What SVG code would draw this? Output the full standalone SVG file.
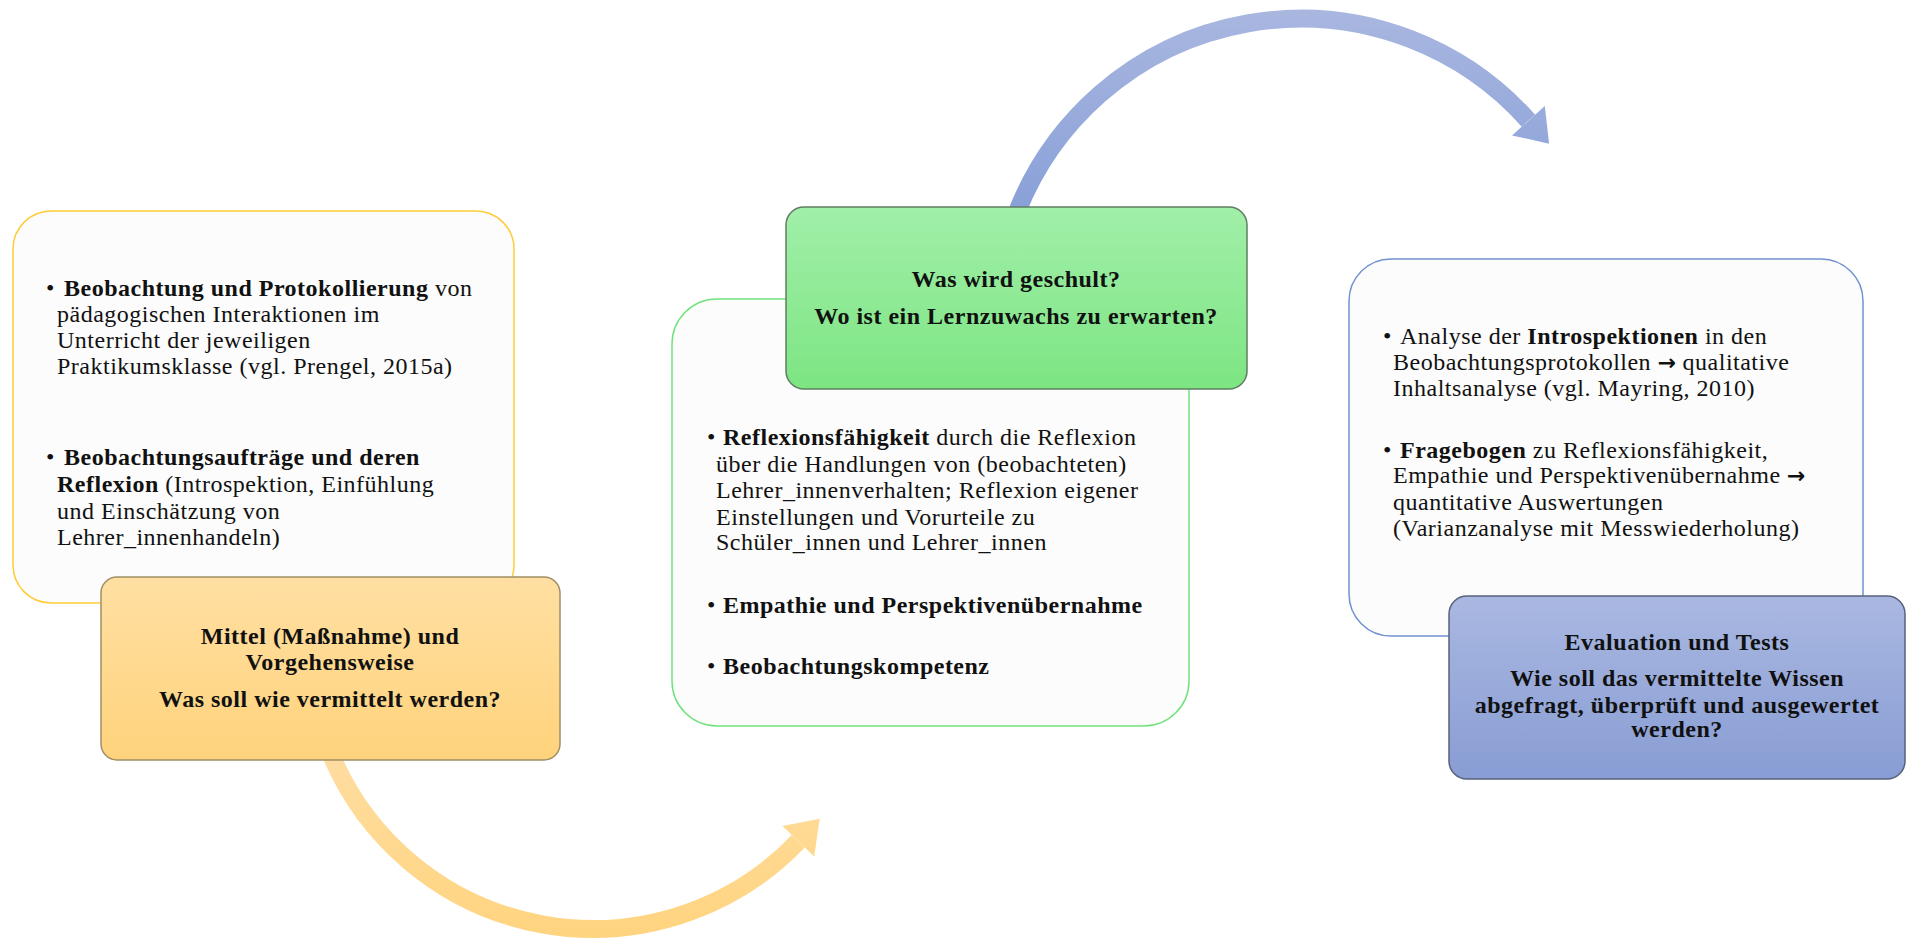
<svg xmlns="http://www.w3.org/2000/svg" width="1906" height="940" viewBox="0 0 1906 940">
<defs>
<linearGradient id="gOrange" x1="0" y1="0" x2="0" y2="1"><stop offset="0" stop-color="#FFDFA2"/><stop offset="1" stop-color="#FFD37C"/></linearGradient>
<linearGradient id="gGreen" x1="0" y1="0" x2="0" y2="1"><stop offset="0" stop-color="#A1EFA9"/><stop offset="1" stop-color="#7DE582"/></linearGradient>
<linearGradient id="gBlue" x1="0" y1="0" x2="0" y2="1"><stop offset="0" stop-color="#AAB8E1"/><stop offset="1" stop-color="#889DD4"/></linearGradient>
<linearGradient id="gArrO" gradientUnits="userSpaceOnUse" x1="0" y1="760" x2="0" y2="940"><stop offset="0" stop-color="#FFDDA0"/><stop offset="1" stop-color="#FFD47F"/></linearGradient>
<linearGradient id="gArrB" gradientUnits="userSpaceOnUse" x1="0" y1="10" x2="0" y2="210"><stop offset="0" stop-color="#A9B7E0"/><stop offset="1" stop-color="#89A0D8"/></linearGradient>
</defs>
<style>
text{font-family:"Liberation Serif","Times New Roman",serif;font-size:24px;fill:#111;letter-spacing:0.5px}
.b{font-weight:bold}
.c{text-anchor:middle}
.ar{font-family:"DejaVu Sans",sans-serif;font-weight:bold;font-size:22px;letter-spacing:0}
.wbox{fill:#FCFCFC;stroke-width:1.5}
</style>
<rect width="1906" height="940" fill="#FFFFFF"/>
<g id="connectors">
<path d="M 331.6 755.9 A 284 284 0 0 0 798.3 841.2" fill="none" stroke="url(#gArrO)" stroke-width="18"/>
<polygon points="819.7,818.8 814.2,856.4 782.4,826.0" fill="url(#gArrO)"/>
<path d="M 1017.3 211.2 A 305 305 0 0 1 1528.4 120.7" fill="none" stroke="url(#gArrB)" stroke-width="18"/>
<polygon points="1549.1,143.8 1544.8,106.0 1512.0,135.4" fill="url(#gArrB)"/>
</g>
<g id="node-left">
<rect class="wbox" x="13" y="211" width="501" height="392" rx="38" stroke="#FFCB3A"/>
<text x="46" y="296">•</text>
<text x="64" y="296"><tspan class="b">Beobachtung und Protokollierung</tspan> von</text>
<text x="57" y="322">pädagogischen Interaktionen im</text>
<text x="57" y="348">Unterricht der jeweiligen</text>
<text x="57" y="374">Praktikumsklasse (vgl. Prengel, 2015a)</text>
<text x="46" y="465">•</text>
<text x="64" y="465" class="b">Beobachtungsaufträge und deren</text>
<text x="57" y="492"><tspan class="b">Reflexion</tspan> (Introspektion, Einfühlung</text>
<text x="57" y="519">und Einschätzung von</text>
<text x="57" y="545">Lehrer_innenhandeln)</text>
</g>
<g id="node-mittel">
<rect x="101" y="577" width="459" height="183" rx="16" fill="url(#gOrange)" stroke="#A08E66" stroke-width="1.5"/>
<text x="330" y="644" class="b c">Mittel (Maßnahme) und</text>
<text x="330" y="670" class="b c">Vorgehensweise</text>
<text x="330" y="707" class="b c">Was soll wie vermittelt werden?</text>
</g>
<g id="node-middle">
<rect class="wbox" x="672" y="299" width="517" height="427" rx="45" stroke="#72E27E"/>
<text x="707" y="445">•</text>
<text x="723" y="445"><tspan class="b">Reflexionsfähigkeit</tspan> durch die Reflexion</text>
<text x="716" y="472">über die Handlungen von (beobachteten)</text>
<text x="716" y="498">Lehrer_innenverhalten; Reflexion eigener</text>
<text x="716" y="525">Einstellungen und Vorurteile zu</text>
<text x="716" y="550">Schüler_innen und Lehrer_innen</text>
<text x="707" y="613">•</text>
<text x="723" y="613" class="b">Empathie und Perspektivenübernahme</text>
<text x="707" y="674">•</text>
<text x="723" y="674" class="b">Beobachtungskompetenz</text>
</g>
<g id="node-geschult">
<rect x="786" y="207" width="461" height="182" rx="18" fill="url(#gGreen)" stroke="#5F7D62" stroke-width="1.5"/>
<text x="1016" y="287" class="b c">Was wird geschult?</text>
<text x="1016" y="324" class="b c">Wo ist ein Lernzuwachs zu erwarten?</text>
</g>
<g id="node-right">
<rect class="wbox" x="1349" y="259" width="514" height="377" rx="42" stroke="#7291D0"/>
<text x="1383" y="344">•</text>
<text x="1400" y="344">Analyse der <tspan class="b">Introspektionen</tspan> in den</text>
<text x="1393" y="370">Beobachtungsprotokollen <tspan class="ar">→</tspan> qualitative</text>
<text x="1393" y="396">Inhaltsanalyse (vgl. Mayring, 2010)</text>
<text x="1383" y="458">•</text>
<text x="1400" y="458"><tspan class="b">Fragebogen</tspan> zu Reflexionsfähigkeit,</text>
<text x="1393" y="483">Empathie und Perspektivenübernahme <tspan class="ar">→</tspan></text>
<text x="1393" y="510">quantitative Auswertungen</text>
<text x="1393" y="536">(Varianzanalyse mit Messwiederholung)</text>
</g>
<g id="node-evaluation">
<rect x="1449" y="596" width="456" height="183" rx="18" fill="url(#gBlue)" stroke="#58627C" stroke-width="1.5"/>
<text x="1677" y="650" class="b c">Evaluation und Tests</text>
<text x="1677" y="686" class="b c">Wie soll das vermittelte Wissen</text>
<text x="1677" y="713" class="b c">abgefragt, überprüft und ausgewertet</text>
<text x="1677" y="737" class="b c">werden?</text>
</g>
</svg>
